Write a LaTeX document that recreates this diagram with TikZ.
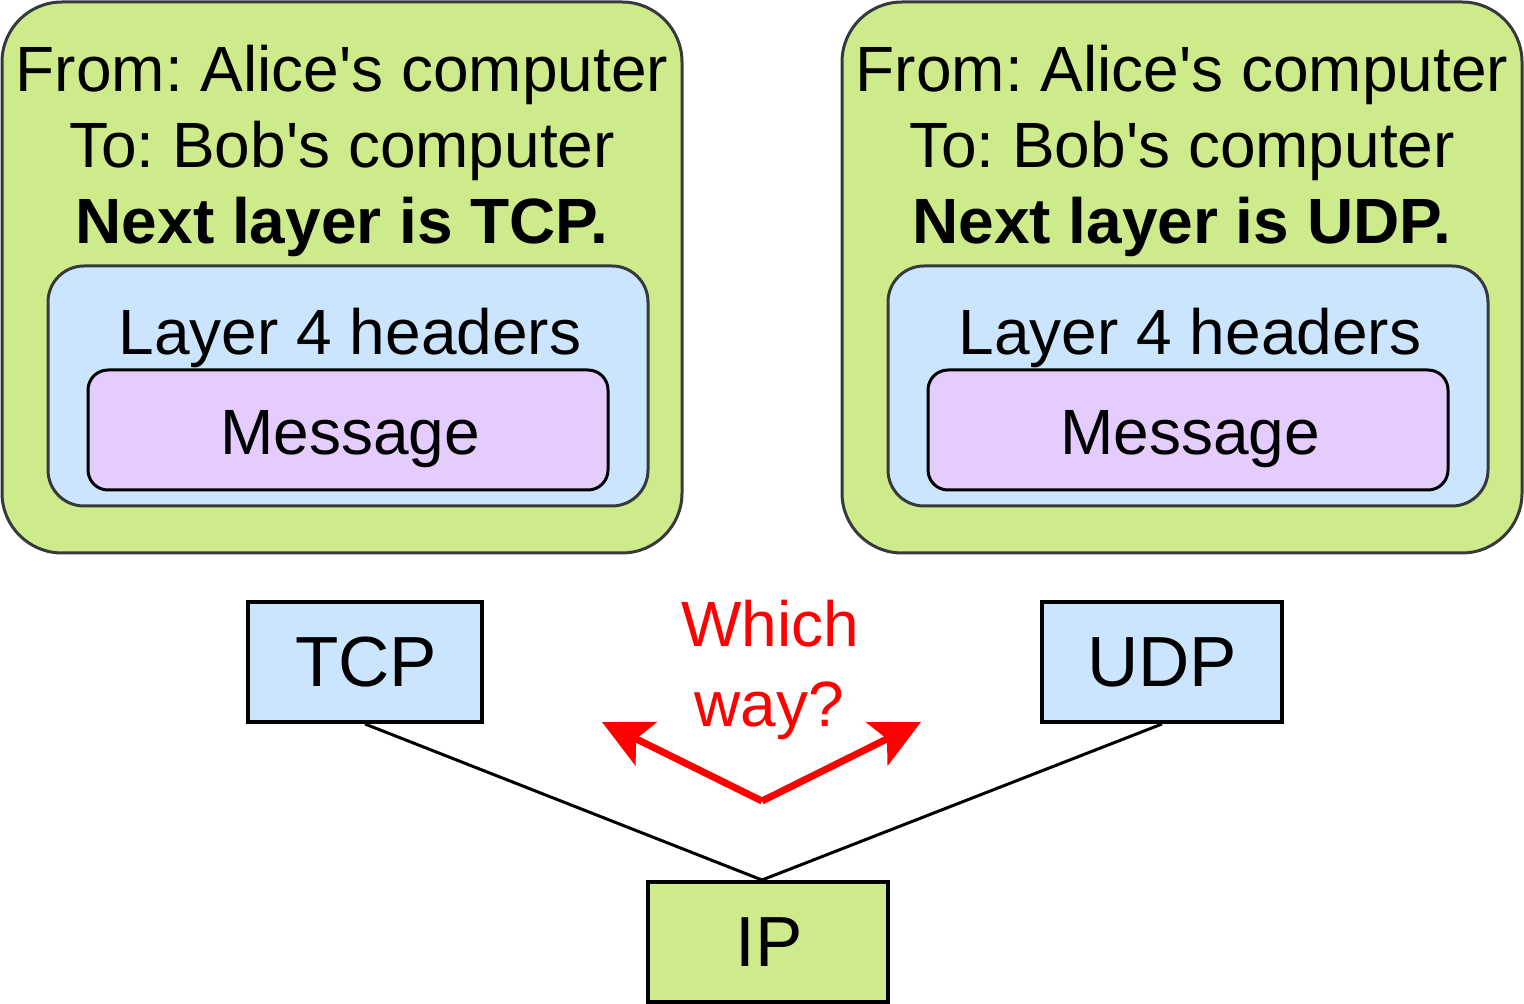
\documentclass[tikz,border=0pt]{standalone}
\usepackage{fontspec}
\setmainfont{Liberation Sans}
\frenchspacing
\usetikzlibrary{arrows.meta}
\definecolor{pktgreen}{HTML}{CDEB8B}
\definecolor{hdrblue}{HTML}{CCE5FF}
\definecolor{msgpurple}{HTML}{E5CCFF}
\definecolor{edgegray}{HTML}{36393D}
\newcommand{\apos}{\textquotesingle}
\begin{document}
\begin{tikzpicture}[x=0.5pt,y=-0.5pt,
  bigfont/.style={font=\fontsize{32pt}{38pt}\selectfont},
  txt/.style={bigfont, anchor=base, inner sep=0pt},
  prototxt/.style={font=\fontsize{35.5pt}{42pt}\selectfont, anchor=base, inner sep=0pt},
  packet/.style={draw=edgegray, fill=pktgreen, line width=1.5pt, rounded corners=30pt,
    minimum width=340pt, minimum height=275.5pt, inner sep=0pt},
  header/.style={draw=edgegray, fill=hdrblue, line width=1.5pt, rounded corners=18pt,
    minimum width=300pt, minimum height=120pt, inner sep=0pt},
  message/.style={draw=black, fill=msgpurple, line width=1.5pt, rounded corners=10pt,
    minimum width=260pt, minimum height=60pt, inner sep=0pt},
  proto/.style={draw=black, line width=2pt, minimum height=60pt, inner sep=0pt},
  link/.style={draw=black, line width=1.5pt},
  choice/.style={draw=red, line width=3.5pt, -{Stealth[length=24.5pt,width=24pt,inset=5.5pt]}}
]
\useasboundingbox (0,0) rectangle (1524,1004);

% TCP packet
\node[packet] (pktA) at (342,277.5) {};
\node[txt] (fromA) at (342,92) {From: Alice\apos s computer};
\node[txt] (toA) at (342,168) {To: Bob\apos s computer};
\node[txt, font=\fontsize{32pt}{38pt}\selectfont\bfseries] (nextA) at (342,244) {Next layer is TCP.};
\node[header] (hdrA) at (348,386) {};
\node[txt] (hdrtxtA) at (350,355) {Layer 4 headers};
\node[message] (msgA) at (348,430) {};
\node[txt] (msgtxtA) at (350,455) {Message};

% UDP packet
\node[packet] (pktB) at (1182,277.5) {};
\node[txt] (fromB) at (1182,92) {From: Alice\apos s computer};
\node[txt] (toB) at (1182,168) {To: Bob\apos s computer};
\node[txt, font=\fontsize{32pt}{38pt}\selectfont\bfseries] (nextB) at (1182,244) {Next layer is UDP.};
\node[header] (hdrB) at (1188,386) {};
\node[txt] (hdrtxtB) at (1190,355) {Layer 4 headers};
\node[message] (msgB) at (1188,430) {};
\node[txt] (msgtxtB) at (1190,455) {Message};

% Protocol stack
\node[proto, fill=hdrblue, minimum width=117pt] (tcp) at (365,662) {};
\node[prototxt] (tcptxt) at (366,686) {TCP};
\node[proto, fill=hdrblue, minimum width=120pt] (udp) at (1162,662) {};
\node[prototxt] (udptxt) at (1162,686) {UDP};
\node[proto, fill=pktgreen, minimum width=120pt] (ip) at (768,942) {};
\node[prototxt] (iptxt) at (769.5,966) {IP};

\draw[link] (tcp.south) -- ([xshift=-3pt]ip.north);
\draw[link] (udp.south) -- ([xshift=-3pt]ip.north);

% Demultiplexing question
\node[txt, text=red] (whichA) at (770,646) {Which};
\node[txt, text=red] (whichB) at (769,726) {way?};
\coordinate (fork) at (762,801);
\coordinate (toTCP) at (602,722);
\coordinate (toUDP) at (921,722);
\draw[choice] (fork) -- (toTCP);
\draw[choice] (fork) -- (toUDP);
\end{tikzpicture}
\end{document}
